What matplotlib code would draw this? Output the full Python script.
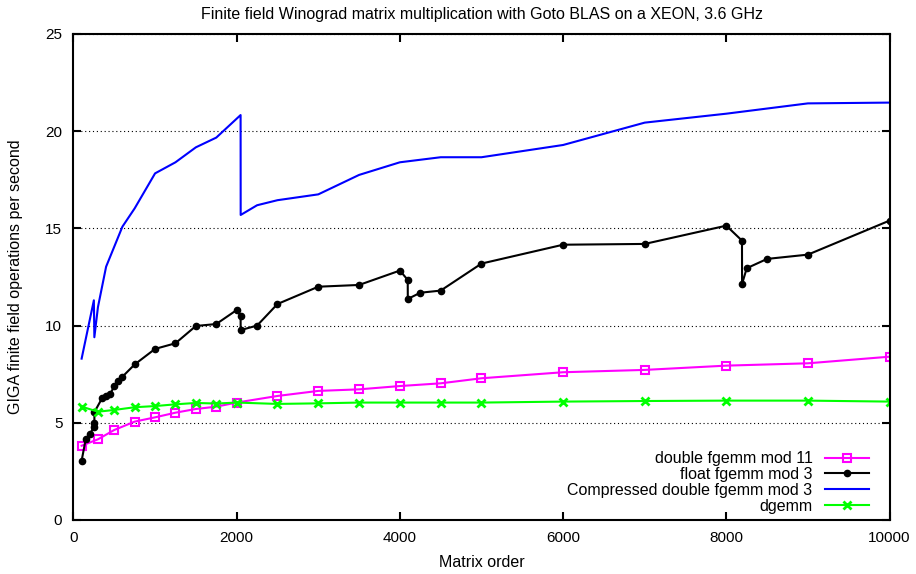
import matplotlib
matplotlib.use("Agg")
import matplotlib.pyplot as plt

plt.rcParams['font.family'] = ['Liberation Sans', 'DejaVu Sans']

# double fgemm mod 11
mod11_n = [100, 300, 500, 750, 1000, 1250, 1500, 1750, 2000, 2500, 3000, 3500,
           4000, 4500, 5000, 6000, 7000, 8000, 9000, 10000]
mod11_gf = [3.82, 4.15, 4.63, 5.06, 5.28, 5.52, 5.71, 5.83, 6.04, 6.38, 6.64, 6.72,
            6.89, 7.03, 7.29, 7.6, 7.72, 7.94, 8.06, 8.4]

# float fgemm mod 3
float_n = [100, 150, 200, 250, 256, 257, 350, 400, 450, 500, 550, 600, 750, 1000,
           1250, 1500, 1750, 2000, 2048, 2049, 2250, 2500, 3000, 3500, 4000, 4096,
           4097, 4250, 4500, 5000, 6000, 7000, 8000, 8192, 8193, 8250, 8500, 9000,
           10000]
float_gf = [3.05, 4.15, 4.4, 4.8, 5.0, 5.55, 6.26, 6.38, 6.48, 6.89, 7.15, 7.37, 8.0,
            8.8, 9.09, 9.98, 10.08, 10.8, 10.5, 9.77, 10.0, 11.11, 12.0, 12.09, 12.83,
            12.35, 11.37, 11.69, 11.8, 13.19, 14.16, 14.2, 15.14, 14.37, 12.14, 12.95,
            13.43, 13.65, 15.4]

# Compressed double fgemm mod 3
comp_n = [100, 250, 256, 300, 400, 600, 750, 1000, 1250, 1500, 1750, 2048, 2049,
          2250, 2500, 3000, 3500, 4000, 4500, 5000, 6000, 7000, 8000, 9000, 10000]
comp_gf = [8.3, 11.3, 9.4, 10.95, 13.03, 15.09, 16.03, 17.83, 18.4, 19.17, 19.67,
           20.83, 15.69, 16.19, 16.45, 16.75, 17.75, 18.4, 18.66, 18.66, 19.29,
           20.44, 20.9, 21.43, 21.47]

# dgemm
dgemm_n = [100, 300, 500, 750, 1000, 1250, 1500, 1750, 2000, 2500, 3000, 3500,
           4000, 4500, 5000, 6000, 7000, 8000, 9000, 10000]
dgemm_gf = [5.83, 5.57, 5.66, 5.8, 5.86, 5.95, 6.02, 5.99, 6.04, 5.97, 6.0, 6.04,
            6.04, 6.04, 6.04, 6.09, 6.12, 6.14, 6.14, 6.09]

fig = plt.figure(figsize=(9.16, 5.74), dpi=100)
ax = fig.add_axes([0.0802, 0.0941, 0.8909, 0.8467])

ax.plot(mod11_n, mod11_gf, color='#ff00ff', lw=1.5, marker='s', ms=6,
        mfc='none', mec='#ff00ff', mew=1.5, label='double fgemm mod 11')
ax.plot(float_n, float_gf, color='black', lw=1.5, marker='o', ms=4.5,
        label='float fgemm mod 3')
ax.plot(comp_n, comp_gf, color='#0000ff', lw=1.5,
        label='Compressed double fgemm mod 3')
ax.plot(dgemm_n, dgemm_gf, color='#00ff00', lw=1.5, marker='x', ms=6, mew=2,
        label='dgemm')

ax.set_xlim(0, 10000)
ax.set_ylim(0, 25)
ax.set_xticks([0, 2000, 4000, 6000, 8000, 10000])
ax.set_yticks([0, 5, 10, 15, 20, 25])
ax.yaxis.grid(True, linestyle=(0, (1, 2.5)), color='black', linewidth=0.8)

for s in ax.spines.values():
    s.set_linewidth(1.5)
ax.tick_params(direction='in', length=6, width=1.5, top=True, right=True,
               labelsize=11, pad=8)

ax.set_title('Finite field Winograd matrix multiplication with Goto BLAS on a XEON, 3.6 GHz',
             fontsize=11.5, pad=11)
ax.set_xlabel('Matrix order', fontsize=11.5, labelpad=7)
ax.set_ylabel('GIGA finite field operations per second', fontsize=11.5, labelpad=16)

ax.legend(loc='lower right', bbox_to_anchor=(0.983, 0.0), frameon=False,
          markerfirst=False, fontsize=11.5, handlelength=2.8, handletextpad=0.75,
          labelspacing=0.05, borderaxespad=0.0)

fig.savefig('out.png', dpi=100)
